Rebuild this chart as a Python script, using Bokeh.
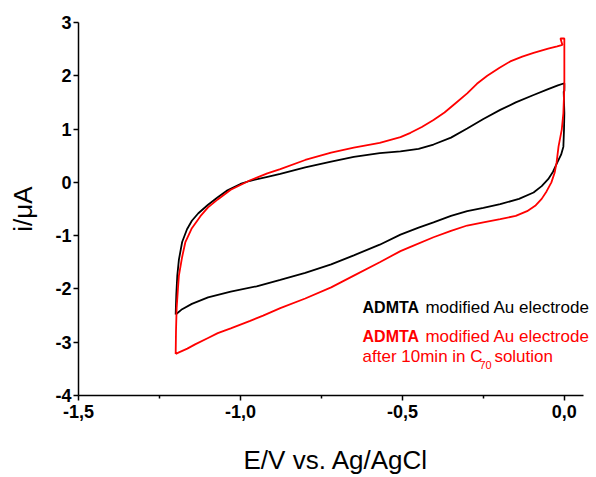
from bokeh.plotting import figure
from bokeh.models import FixedTicker, Label, Range1d
from bokeh.embed import file_html
from bokeh.resources import INLINE

# ---- data ----
# ADMTA modified Au electrode (black): anodic sweep then cathodic sweep
black_fwd_E = [-1.2, -1.198, -1.195, -1.19, -1.18, -1.165, -1.15, -1.13, -1.10, -1.07, -1.04, -1.0,
               -0.97, -0.92, -0.877, -0.80, -0.72, -0.65, -0.57, -0.506, -0.45, -0.404, -0.35,
               -0.30, -0.25, -0.198, -0.15, -0.095, -0.05, -0.02, 0.0]
black_fwd_i = [-2.48, -2.1, -1.75, -1.45, -1.12, -0.88, -0.72, -0.58, -0.42, -0.28, -0.15, -0.03,
               0.03, 0.10, 0.16, 0.28, 0.39, 0.48, 0.55, 0.58, 0.63, 0.71, 0.84,
               1.01, 1.19, 1.36, 1.50, 1.64, 1.75, 1.82, 1.86]
black_rev_E = [0.0, -0.002, 0.0, -0.001, -0.003, -0.01, -0.022, -0.035, -0.05, -0.07, -0.095, -0.14,
               -0.198, -0.25, -0.30, -0.35, -0.404, -0.45, -0.506, -0.57, -0.65, -0.72, -0.80,
               -0.877, -0.95, -1.03, -1.10, -1.15, -1.18, -1.2]
black_rev_i = [1.72, 1.70, 1.3, 1.0, 0.67, 0.52, 0.37, 0.2, 0.06, -0.07, -0.19, -0.31,
               -0.41, -0.48, -0.54, -0.63, -0.75, -0.85, -0.98, -1.17, -1.37, -1.54, -1.70,
               -1.83, -1.95, -2.05, -2.16, -2.28, -2.38, -2.48]

# after 10 min in C70 solution (red)
red_fwd_E = [-1.2, -1.199, -1.197, -1.193, -1.19, -1.18, -1.17, -1.15, -1.123, -1.10, -1.07, -1.03,
             -1.0, -0.97, -0.917, -0.877, -0.80, -0.72, -0.65, -0.57, -0.506, -0.475, -0.44, -0.404,
             -0.37, -0.335, -0.30, -0.27, -0.238, -0.20, -0.167, -0.13, -0.095, -0.05, -0.022, -0.006,
             -0.012, 0.0]
red_fwd_i = [-3.22, -2.8, -2.36, -2.0, -1.75, -1.40, -1.12, -0.86, -0.63, -0.47, -0.32, -0.14,
             -0.05, 0.04, 0.17, 0.25, 0.42, 0.56, 0.65, 0.74, 0.85, 0.93, 1.04, 1.17,
             1.31, 1.49, 1.67, 1.85, 2.00, 2.15, 2.27, 2.36, 2.43, 2.51, 2.55, 2.58,
             2.70, 2.70]
red_rev_E = [0.0, 0.0, -0.003, -0.008, -0.018, -0.024, -0.03, -0.04, -0.055, -0.07, -0.09, -0.115,
             -0.15, -0.198, -0.25, -0.30, -0.35, -0.404, -0.475, -0.506, -0.57, -0.65, -0.72,
             -0.80, -0.877, -0.93, -0.97, -1.03, -1.07, -1.10, -1.14, -1.164, -1.19, -1.2]
red_rev_i = [2.70, 1.8, 1.3, 0.99, 0.67, 0.37, 0.18, 0.0, -0.17, -0.31, -0.44, -0.54,
             -0.63, -0.69, -0.75, -0.81, -0.91, -1.03, -1.21, -1.29, -1.50, -1.75, -1.97,
             -2.18, -2.36, -2.50, -2.60, -2.74, -2.83, -2.92, -3.04, -3.12, -3.19, -3.22]

x_ticks = [-1.5, -1.0, -0.5, 0.0]
x_tick_labels = ["-1,5", "-1,0", "-0,5", "0,0"]
x_minor = [-1.25, -0.75, -0.25]
y_ticks = [-4, -3, -2, -1, 0, 1, 2, 3]
y_tick_labels = ["-4", "-3", "-2", "-1", "0", "1", "2", "3"]

legend_black = ("ADMTA", "modified Au electrode")
legend_red = ("ADMTA", "modified Au electrode", "after 10min in C", "70", "solution")

FONT = "Liberation Sans"
RED = "#ff0000"

p = figure(width=596, height=477, output_backend="svg", toolbar_location=None,
           x_range=Range1d(-1.5, 0.09), y_range=Range1d(-4, 3),
           min_border_left=78, min_border_right=3, min_border_top=22, min_border_bottom=79)
p.outline_line_color = None
p.grid.visible = False
p.background_fill_color = "white"
p.border_fill_color = "white"

p.line(black_fwd_E + black_rev_E, black_fwd_i + black_rev_i, color="black", line_width=1.8)
p.line(red_fwd_E + red_rev_E, red_fwd_i + red_rev_i, color=RED, line_width=1.8)

xa = p.xaxis[0]
xa.ticker = FixedTicker(ticks=x_ticks, minor_ticks=x_minor)
xa.major_label_overrides = {t: l for t, l in zip(x_ticks, x_tick_labels)}
xa.bounds = (-1.5, 0.06)
ya = p.yaxis[0]
ya.ticker = FixedTicker(ticks=y_ticks, minor_ticks=[])
ya.major_label_overrides = {t: l for t, l in zip(y_ticks, y_tick_labels)}

for ax in (xa, ya):
    ax.axis_line_width = 1.5
    ax.axis_line_color = "black"
    ax.major_tick_line_width = 1.5
    ax.minor_tick_line_width = 1.5
    ax.major_tick_in = 0
    ax.major_tick_out = 5
    ax.minor_tick_in = 0
    ax.minor_tick_out = 3
    ax.major_label_text_font = FONT
    ax.major_label_text_font_style = "bold"
    ax.major_label_text_font_size = "18px"
    ax.major_label_text_color = "black"
    ax.axis_label_text_font = FONT
    ax.axis_label_text_font_style = "normal"
    ax.axis_label_text_font_size = "26px"
    ax.axis_label_text_color = "black"

xa.axis_label = "E/V vs. Ag/AgCl"
xa.major_label_standoff = 4
xa.axis_label_standoff = 24
ya.axis_label = "i/\u03bcA"
ya.major_label_standoff = 2
ya.axis_label_standoff = 14

def lab(x, y, text, color, bold=False, size="17px"):
    p.add_layout(Label(x=x, y=y, text=text, text_color=color, text_font=FONT,
                       text_font_size=size, text_font_style="bold" if bold else "normal",
                       text_baseline="middle", text_align="left"))

lab(-0.623, -2.35, legend_black[0], "black", bold=True, size="16px")
lab(-0.429, -2.35, legend_black[1], "black")
lab(-0.623, -2.89, legend_red[0], RED, bold=True, size="16px")
lab(-0.429, -2.89, legend_red[1], RED)
lab(-0.623, -3.26, legend_red[2], RED)
lab(-0.262, -3.43, legend_red[3], RED, size="11px")
lab(-0.216, -3.26, legend_red[4], RED)

open("out.html", "w").write(file_html(p, INLINE))
